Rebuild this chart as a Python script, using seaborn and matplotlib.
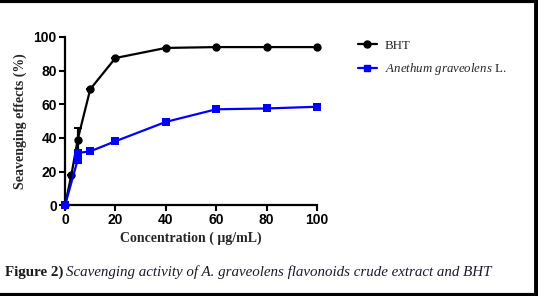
import numpy as np
import pandas as pd
import matplotlib
matplotlib.use("Agg")
import matplotlib.pyplot as plt
import seaborn as sns
from matplotlib.lines import Line2D

# concentrations (ug/mL)
bht_conc = [0, 2.5, 5, 10, 20, 40, 60, 80, 100]
bht_effect = [0, 18, 39, 69, 87.5, 93.5, 94, 94, 94]
bht_err = [0, 0, 7, 0, 0, 0, 0, 0, 0]

ane_conc = [0, 5, 5, 10, 20, 40, 60, 80, 100]
ane_effect = [0, 27, 31, 32, 38, 49.5, 57, 57.5, 58.5]

xticks = [0, 20, 40, 60, 80, 100]
yticks = [0, 20, 40, 60, 80, 100]


def plot_dataset(df_bht, df_ane):
    sns.set_style("ticks")
    plt.rcParams["mathtext.fontset"] = "custom"
    plt.rcParams["mathtext.it"] = "Liberation Serif:italic"
    plt.rcParams["mathtext.rm"] = "Liberation Serif"
    fig = plt.figure(figsize=(5.38, 2.96), dpi=100)
    ax = fig.add_axes([0.121, 0.307, 0.468, 0.568])

    sns.lineplot(data=df_bht, x="conc", y="effect", estimator=None, sort=False,
                 color="black", marker="o", markersize=6, markeredgewidth=0,
                 linewidth=1.6, ax=ax, clip_on=False, zorder=3)
    ax.errorbar(df_bht["conc"], df_bht["effect"], yerr=df_bht["err"],
                fmt="none", ecolor="black", elinewidth=1.6, capsize=3,
                capthick=1.4, clip_on=False, zorder=3)
    sns.lineplot(data=df_ane, x="conc", y="effect", estimator=None, sort=False,
                 color="#0000ff", marker="s", markersize=6, markeredgewidth=0,
                 linewidth=1.6, ax=ax, clip_on=False, zorder=4)

    ax.set_xlim(0, 100)
    ax.set_ylim(0, 100)
    ax.set_xticks(xticks)
    ax.set_yticks(yticks)
    for lab in ax.get_xticklabels() + ax.get_yticklabels():
        lab.set_family("Liberation Sans")
        lab.set_fontweight("bold")
        lab.set_fontsize(10)
    ax.tick_params(width=1.5, length=4, pad=2, colors="black")
    for s in ["left", "bottom"]:
        ax.spines[s].set_linewidth(1.6)
        ax.spines[s].set_color("black")
    sns.despine(ax=ax)

    ax.set_xlabel("Concentration ( \u03bcg/mL)", family="Liberation Serif",
                  fontweight="bold", fontsize=10, labelpad=3)
    ax.set_ylabel("Seavenging effects (%)", family="Liberation Serif",
                  fontweight="bold", fontsize=10, labelpad=5)

    handles = [
        Line2D([], [], color="black", marker="o", markersize=5, linewidth=1.6),
        Line2D([], [], color="#0000ff", marker="s", markersize=5, linewidth=1.6),
    ]
    labels = ["BHT", "$\\mathit{Anethum\\ graveolens}$ L."]
    fig.legend(handles, labels, loc="upper left",
               bbox_to_anchor=(0.643, 0.905), frameon=False,
               handlelength=1.5, handletextpad=0.6, labelspacing=0.75,
               prop={"family": "Liberation Serif", "size": 9.3})

    fig.text(0.009, 0.068, "Figure 2)", family="Liberation Serif",
             fontweight="bold", fontsize=10.8, color="#1a1a1a", va="baseline")
    fig.text(0.122, 0.068,
             "Scavenging activity of A. graveolens flavonoids crude extract and BHT",
             family="Liberation Serif", style="italic", fontsize=10.8,
             color="#1a1a2e", va="baseline")

    # frame lines: top, right, bottom
    fig.add_artist(Line2D([0, 1], [0.997, 0.997], color="black", lw=3,
                          transform=fig.transFigure))
    fig.add_artist(Line2D([0.9955, 0.9955], [0, 1], color="black", lw=3.5,
                          transform=fig.transFigure))
    fig.add_artist(Line2D([0, 1], [0.004, 0.004], color="black", lw=3,
                          transform=fig.transFigure))

    fig.savefig("out.png", dpi=100)


def main():
    df_bht = pd.DataFrame({"conc": bht_conc, "effect": bht_effect, "err": bht_err})
    df_ane = pd.DataFrame({"conc": ane_conc, "effect": ane_effect})
    plot_dataset(df_bht, df_ane)


if __name__ == "__main__":
    main()
